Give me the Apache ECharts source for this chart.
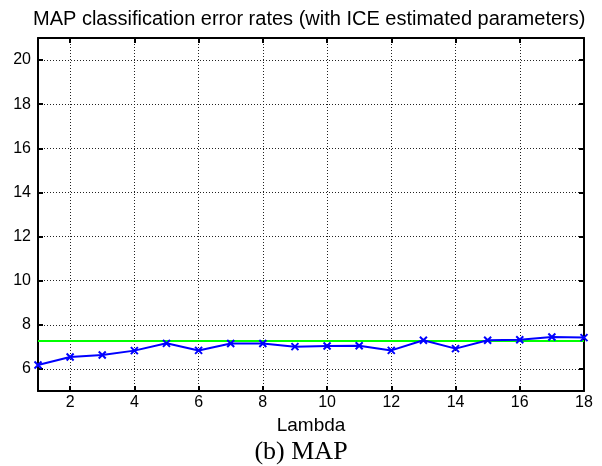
<!DOCTYPE html>
<html><head><meta charset="utf-8">
<script src="https://cdn.jsdelivr.net/npm/echarts@6/dist/echarts.min.js"></script>
<style>html,body{margin:0;padding:0;background:#fff}#c{width:602px;height:466px}</style>
</head><body><div id="c"></div>
<script>
const lambdas = [1,2,3,4,5,6,7,8,9,10,11,12,13,14,15,16,17,18];
const errorRates = [6.18,6.54,6.63,6.83,7.16,6.84,7.15,7.15,7.01,7.04,7.05,6.84,7.30,6.92,7.30,7.32,7.45,7.42];
const referenceRate = 7.30;
const xTicks = [2,4,6,8,10,12,14,16,18];
const yTicks = [6,8,10,12,14,16,18,20];
const titleText = 'MAP classification error rates (with ICE estimated parameters)';
const xName = 'Lambda';
const caption = '(b) MAP';

const chart = echarts.init(document.getElementById('c'));
const axLine = {show:true, onZero:false, lineStyle:{color:'#000', width:2}};
const tick = {show:true, inside:true, length:5, lineStyle:{color:'#000', width:2}};
const split = {show:true, lineStyle:{color:'#222', width:1, type:[1,2]}};
const fontSans = 'Liberation Sans, Arial, sans-serif';
chart.setOption({
  animation:false,
  backgroundColor:'#fff',
  title:{text:titleText, left:28, top:4, textStyle:{fontFamily:fontSans, fontSize:20, fontWeight:'normal', color:'#000'}},
  grid:{left:38, right:18, top:38, bottom:75, containLabel:false},
  xAxis:[
    {type:'value', min:1, max:18, position:'bottom', axisLine:axLine,
     axisTick:Object.assign({customValues:xTicks}, tick),
     axisLabel:{customValues:xTicks, fontFamily:fontSans, fontSize:16, color:'#000', margin:4},
     splitLine:split,
     name:xName, nameLocation:'middle', nameGap:18, nameTextStyle:{fontFamily:fontSans, fontSize:19, color:'#000', verticalAlign:'top'}},
    {type:'value', min:1, max:18, position:'top', axisLine:axLine,
     axisTick:Object.assign({customValues:xTicks}, tick),
     axisLabel:{show:false}, splitLine:{show:false}}
  ],
  yAxis:[
    {type:'value', min:5, max:21, position:'left', axisLine:axLine,
     axisTick:Object.assign({customValues:yTicks}, tick),
     axisLabel:{customValues:yTicks, fontFamily:fontSans, fontSize:16, color:'#000', margin:7},
     splitLine:split},
    {type:'value', min:5, max:21, position:'right', axisLine:axLine,
     axisTick:Object.assign({customValues:yTicks}, tick),
     axisLabel:{show:false}, splitLine:{show:false}}
  ],
  graphic:[{type:'text', left:'center', top:439, style:{text:caption, font:'26px "Liberation Serif", "Times New Roman", serif', fill:'#000'}}],
  series:[
    {type:'line', xAxisIndex:0, yAxisIndex:0, data:lambdas.map((x,i)=>[x,errorRates[i]]),
     lineStyle:{color:'#0000ff', width:2}, itemStyle:{color:'#0000ff', borderColor:'#0000ff', borderWidth:2},
     symbol:'path://M0,0L10,10M10,0L0,10', symbolSize:7, showSymbol:true, z:3,
     markLine:{silent:true, symbol:'none', label:{show:false}, lineStyle:{color:'#00ff00', width:2, type:'solid'},
       data:[{yAxis:referenceRate}], z:2}}
  ]
});
</script></body></html>
